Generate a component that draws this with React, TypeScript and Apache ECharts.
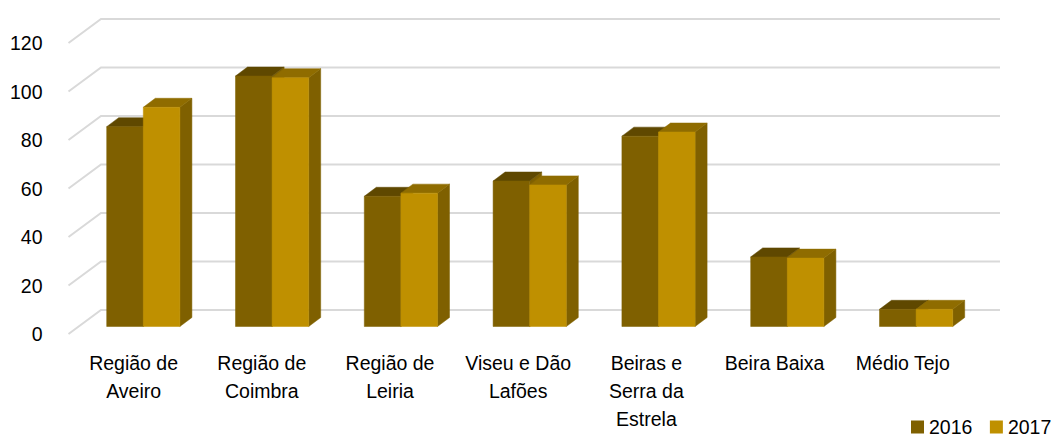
import React, { useEffect, useRef } from "react";
import * as echarts from "echarts";

const categories = [
  "Região de\nAveiro",
  "Região de\nCoimbra",
  "Região de\nLeiria",
  "Viseu e Dão\nLafões",
  "Beiras e\nSerra da\nEstrela",
  "Beira Baixa",
  "Médio Tejo",
];
const values2016 = [82.4, 103.3, 53.7, 60, 78.5, 28.7, 7.1];
const values2017 = [90.4, 102.6, 55, 58.4, 80.2, 28.2, 7.1];
const yTicks = [0, 20, 40, 60, 80, 100, 120];

const FONT = "'Liberation Sans', Arial, sans-serif";
const FONT_SIZE = 19.5;
const WALL_FRONT_X = 68.5;
const WALL_BACK_X = 101;
const WALL_DY = -24;
const WALL_RIGHT = 1000;
const BAR_DX = 9.7;
const BAR_SKEW = 0.6;
const BAR_DY = -7.5;
const DEPTH_DX = 12;
const DEPTH_DY = -9;
const BAR_WIDTH = 36.6;

const barSeries = (
  name: string,
  values: number[],
  slot: number,
  front: string,
  top: string,
  side: string,
) => ({
  type: "custom",
  name,
  z: 3 + slot,
  itemStyle: { color: front },
  encode: { x: 0, y: 1 },
  data: values.map((v, i) => [i, v]),
  renderItem: (_: any, api: any) => {
    const t = api.coord([api.value(0), api.value(1)]);
    const b = api.coord([api.value(0), 0]);
    const w = BAR_WIDTH;
    const x0 = t[0] + BAR_DX + api.value(0) * BAR_SKEW + (slot - 1) * w;
    const x1 = x0 + w;
    const yT = t[1] + BAR_DY;
    const yB = b[1] + BAR_DY;
    const shape = (points: number[][], fill: string) => ({
      type: "polygon",
      shape: { points },
      style: { fill, stroke: fill, lineWidth: 0.5 },
    });
    return {
      type: "group",
      children: [
        shape(
          [
            [x1, yT],
            [x1 + DEPTH_DX, yT + DEPTH_DY],
            [x1 + DEPTH_DX, yB + DEPTH_DY],
            [x1, yB],
          ],
          side,
        ),
        shape(
          [
            [x0, yT],
            [x0 + DEPTH_DX, yT + DEPTH_DY],
            [x1 + DEPTH_DX, yT + DEPTH_DY],
            [x1, yT],
          ],
          top,
        ),
        shape(
          [
            [x0, yT],
            [x1, yT],
            [x1, yB],
            [x0, yB],
          ],
          front,
        ),
      ],
    };
  },
});

export default function App() {
  const ref = useRef<HTMLDivElement>(null);
  useEffect(() => {
    const chart = echarts.init(ref.current!, null, { renderer: "svg" });
    chart.setOption({
      animation: false,
      backgroundColor: "#fff",
      grid: { left: 69.5, top: 43, width: 897.4, height: 291, containLabel: false },
      legend: {
        data: ["2016", "2017"],
        left: 911,
        top: 417,
        icon: "rect",
        itemWidth: 13,
        itemHeight: 13,
        itemGap: 17.5,
        textStyle: { fontFamily: FONT, fontSize: 19.5, color: "#000" },
        padding: 0,
      },
      xAxis: {
        type: "category",
        data: categories,
        axisLine: { show: false },
        axisTick: { show: false },
        splitLine: { show: false },
        axisLabel: {
          interval: 0,
          margin: 15,
          fontFamily: FONT,
          fontSize: FONT_SIZE,
          lineHeight: 28,
          color: "#000",
        },
      },
      yAxis: {
        type: "value",
        min: 0,
        max: 120,
        interval: 20,
        axisLine: { show: false },
        axisTick: { show: false },
        splitLine: { show: false },
        axisLabel: { margin: 27, fontFamily: FONT, fontSize: FONT_SIZE, color: "#000" },
      },
      series: [
        {
          type: "custom",
          name: "wall",
          z: 1,
          silent: true,
          encode: { y: 0 },
          data: yTicks.map((v) => [v]),
          renderItem: (_: any, api: any) => {
            const y = api.coord([0, api.value(0)])[1];
            return {
              type: "polyline",
              shape: {
                points: [
                  [WALL_FRONT_X, y],
                  [WALL_BACK_X, y + WALL_DY],
                  [WALL_RIGHT, y + WALL_DY],
                ],
              },
              style: { fill: "none", stroke: "#d9d9d9", lineWidth: 2 },
            };
          },
        },
        barSeries("2016", values2016, 0, "#7f6000", "#5f4800", "#7f6000"),
        barSeries("2017", values2017, 1, "#bf9000", "#8f6c00", "#7f6000"),
      ],
    });
    return () => chart.dispose();
  }, []);
  return (
    <div
      ref={ref}
      style={{ position: "absolute", left: 0, top: 0, width: 1053, height: 438 }}
    />
  );
}
